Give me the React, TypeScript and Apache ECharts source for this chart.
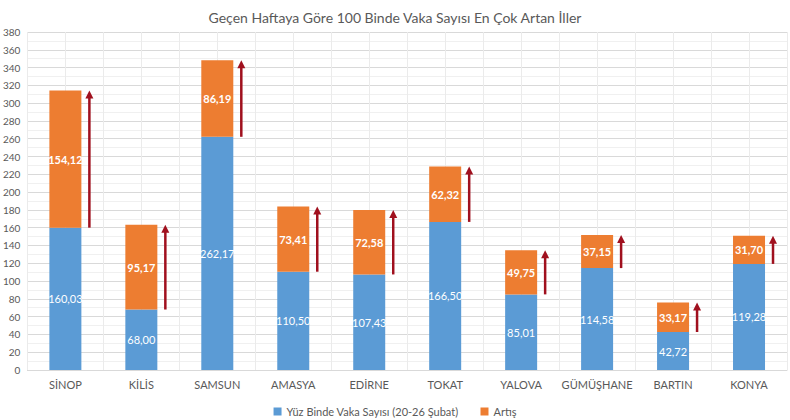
import { useEffect, useRef } from "react";
import * as echarts from "echarts";

const cities = ["SİNOP", "KİLİS", "SAMSUN", "AMASYA", "EDİRNE", "TOKAT", "YALOVA", "GÜMÜŞHANE", "BARTIN", "KONYA"];
const weeklyRate = [160.03, 68.0, 262.17, 110.5, 107.43, 166.5, 85.01, 114.58, 42.72, 119.28];
const increase = [154.12, 95.17, 86.19, 73.41, 72.58, 62.32, 49.75, 37.15, 33.17, 31.7];
const halfSlots = Array.from({ length: cities.length * 2 }, (_, i) => String(i));

const FONT = "Lato, 'Open Sans', sans-serif";
const BLUE = "#5B9BD5";
const ORANGE = "#ED7D31";
const ARROW = "#A0101E";
const TEXT = "#595959";

const fmt = (v: number) => v.toFixed(2).replace(".", ",");

const App = () => {
  const chartRef = useRef<HTMLDivElement | null>(null);

  useEffect(() => {
    if (!chartRef.current) {
      return;
    }
    document.body.style.margin = "0";
    const instance = echarts.init(chartRef.current, undefined, { renderer: "svg" });

    const arrowData = cities.map((_, i) => [i, weeklyRate[i], weeklyRate[i] + increase[i]]);

    const option: echarts.EChartsOption = {
      animation: false,
      textStyle: { fontFamily: FONT },
      title: {
        text: "Geçen Haftaya Göre 100 Binde Vaka Sayısı En Çok Artan İller",
        left: "center",
        top: 5,
        textStyle: { color: TEXT, fontSize: 14, fontWeight: "normal", fontFamily: FONT },
      },
      grid: { left: 27, right: 3, top: 32, bottom: 50 },
      legend: {
        data: ["Yüz Binde Vaka Sayısı (20-26 Şubat)", "Artış"],
        top: 401,
        left: "center",
        itemWidth: 8,
        itemHeight: 8,
        itemGap: 22,
        icon: "rect",
        textStyle: { color: TEXT, fontSize: 11, fontFamily: FONT },
      },
      xAxis: [
        {
          type: "category",
          data: cities,
          axisLine: { lineStyle: { color: "#d9d9d9" } },
          axisTick: { show: false },
          axisLabel: { color: TEXT, fontSize: 11, margin: 9, interval: 0, fontFamily: FONT },
          splitLine: { show: false },
        },
        {
          type: "category",
          data: halfSlots,
          position: "bottom",
          axisLine: { show: false },
          axisTick: { show: false },
          axisLabel: { show: false },
          splitLine: { show: true, lineStyle: { color: "#ebebeb" } },
        },
      ],
      yAxis: {
        type: "value",
        min: 0,
        max: 380,
        interval: 20,
        axisLine: { show: false },
        axisTick: { show: false },
        axisLabel: { color: TEXT, fontSize: 10, margin: 7, fontFamily: FONT },
        splitLine: { lineStyle: { color: "#d9d9d9" } },
        minorTick: { show: false, splitNumber: 2 },
        minorSplitLine: { show: true, lineStyle: { color: "#f0f0f0" } },
      },
      series: [
        {
          name: "Yüz Binde Vaka Sayısı (20-26 Şubat)",
          type: "bar",
          stack: "total",
          barWidth: 32,
          data: weeklyRate,
          itemStyle: { color: BLUE },
          label: {
            show: true,
            position: "inside",
            color: "#ffffff",
            fontSize: 11,
            fontFamily: FONT,
            formatter: (p: any) => fmt(p.value),
          },
        },
        {
          name: "Artış",
          type: "bar",
          stack: "total",
          barWidth: 32,
          data: increase,
          itemStyle: { color: ORANGE },
          label: {
            show: true,
            position: "inside",
            color: "#ffffff",
            fontSize: 11,
            fontWeight: "bold",
            fontFamily: FONT,
            formatter: (p: any) => fmt(p.value),
          },
        },
        {
          type: "custom",
          name: "arrows",
          data: arrowData,
          z: 5,
          renderItem: (_params: any, api: any) => {
            const base = api.coord([api.value(0), api.value(1)]);
            const top = api.coord([api.value(0), api.value(2)]);
            const x = base[0] + 24;
            return {
              type: "group",
              children: [
                {
                  type: "line",
                  shape: { x1: x, y1: base[1], x2: x, y2: top[1] + 6 },
                  style: { stroke: ARROW, lineWidth: 2.5 },
                },
                {
                  type: "polygon",
                  shape: {
                    points: [
                      [x - 4, top[1] + 8],
                      [x + 4, top[1] + 8],
                      [x, top[1]],
                    ],
                  },
                  style: { fill: ARROW },
                },
              ],
            };
          },
        },
      ],
    };

    instance.setOption(option);

    return () => {
      instance.dispose();
    };
  }, []);

  return <div ref={chartRef} style={{ width: 790, height: 420 }} />;
};

export default App;
